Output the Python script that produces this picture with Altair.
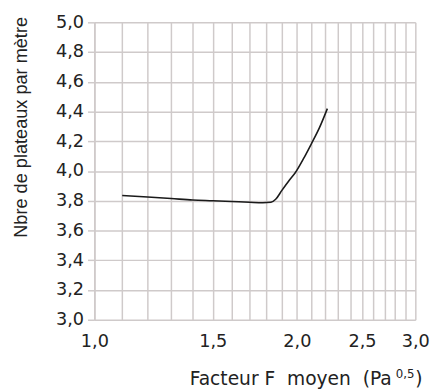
import altair as alt
import pandas as pd

facteur_f = [1.10, 1.20, 1.30, 1.40, 1.50, 1.60, 1.70, 1.78, 1.83, 1.86, 1.90, 1.95, 1.99, 2.05, 2.10, 2.16, 2.22]
plateaux = [3.835, 3.825, 3.815, 3.805, 3.800, 3.795, 3.790, 3.787, 3.790, 3.810, 3.870, 3.940, 3.990, 4.090, 4.180, 4.290, 4.420]

x_grid = [round(1.0 + 0.1 * i, 1) for i in range(21)]
y_grid = [round(3.0 + 0.2 * i, 1) for i in range(11)]

x_title_main = ["Facteur F\u00a0\u00a0moyen\u00a0\u00a0(Pa"]
x_title_sup = ["0,5"]
x_title_close = [")"]
y_title = "Nbre de plateaux par mètre"

df = pd.DataFrame({"F": facteur_f, "N": plateaux})

FONT = "DejaVu Sans"
TFONT = "Liberation Sans"
TXT = "#222222"
GRID = "#cfcaca"

line = alt.Chart(df).mark_line(color="#1a1a1a", strokeWidth=1.6, interpolate="monotone").encode(
    x=alt.X(
        "F:Q",
        scale=alt.Scale(type="log", domain=[1, 3], nice=False),
        axis=alt.Axis(
            values=x_grid,
            labelExpr="(round(datum.value*10) % 5 == 0) ? replace(format(datum.value, '.1f'), '.', ',') : ''",
            ticks=False,
            domain=False,
            grid=True,
            gridColor=GRID,
            gridWidth=1.5,
            labelFont=FONT,
            labelFontSize=18,
            labelColor=TXT,
            labelPadding=13,
            labelOverlap=False,
            labelFlush=False,
            title=None,
        ),
    ),
    y=alt.Y(
        "N:Q",
        scale=alt.Scale(domain=[3, 5], nice=False),
        axis=alt.Axis(
            values=y_grid,
            labelExpr="replace(format(datum.value, '.1f'), '.', ',')",
            ticks=True,
            tickSize=7,
            tickColor=GRID,
            tickWidth=1.5,
            domain=True,
            domainColor=GRID,
            domainWidth=1.5,
            grid=True,
            gridColor=GRID,
            gridWidth=1.5,
            labelFont=FONT,
            labelFontSize=18,
            labelColor=TXT,
            labelPadding=4,
            labelOverlap=False,
            title=y_title,
            titleFont=TFONT,
            titleFontSize=18.5,
            titleFontWeight="normal",
            titleColor=TXT,
            titleAngle=270,
            titleAnchor="end",
            titleAlign="right",
            titleBaseline="alphabetic",
            titleX=-69,
            titleY=-6,
        ),
    ),
)

t_main = alt.Chart(pd.DataFrame({"t": x_title_main})).mark_text(
    font=FONT, fontSize=19, color=TXT, align="right", baseline="alphabetic"
).encode(text="t:N", x=alt.value(303), y=alt.value(369))

t_sup = alt.Chart(pd.DataFrame({"t": x_title_sup})).mark_text(
    font=FONT, fontSize=12, color=TXT, align="left", baseline="alphabetic"
).encode(text="t:N", x=alt.value(307), y=alt.value(362))

t_close = alt.Chart(pd.DataFrame({"t": x_title_close})).mark_text(
    font=FONT, fontSize=19, color=TXT, align="left", baseline="alphabetic"
).encode(text="t:N", x=alt.value(327), y=alt.value(369))

chart = alt.layer(line, t_main, t_sup, t_close).properties(
    width=327,
    height=303,
    padding={"left": 88, "top": 11, "right": 18, "bottom": 70},
    autosize=alt.AutoSizeParams(type="none"),
).configure_view(stroke=None)

chart.save("out.html", embed_options={"renderer": "svg", "actions": False})
